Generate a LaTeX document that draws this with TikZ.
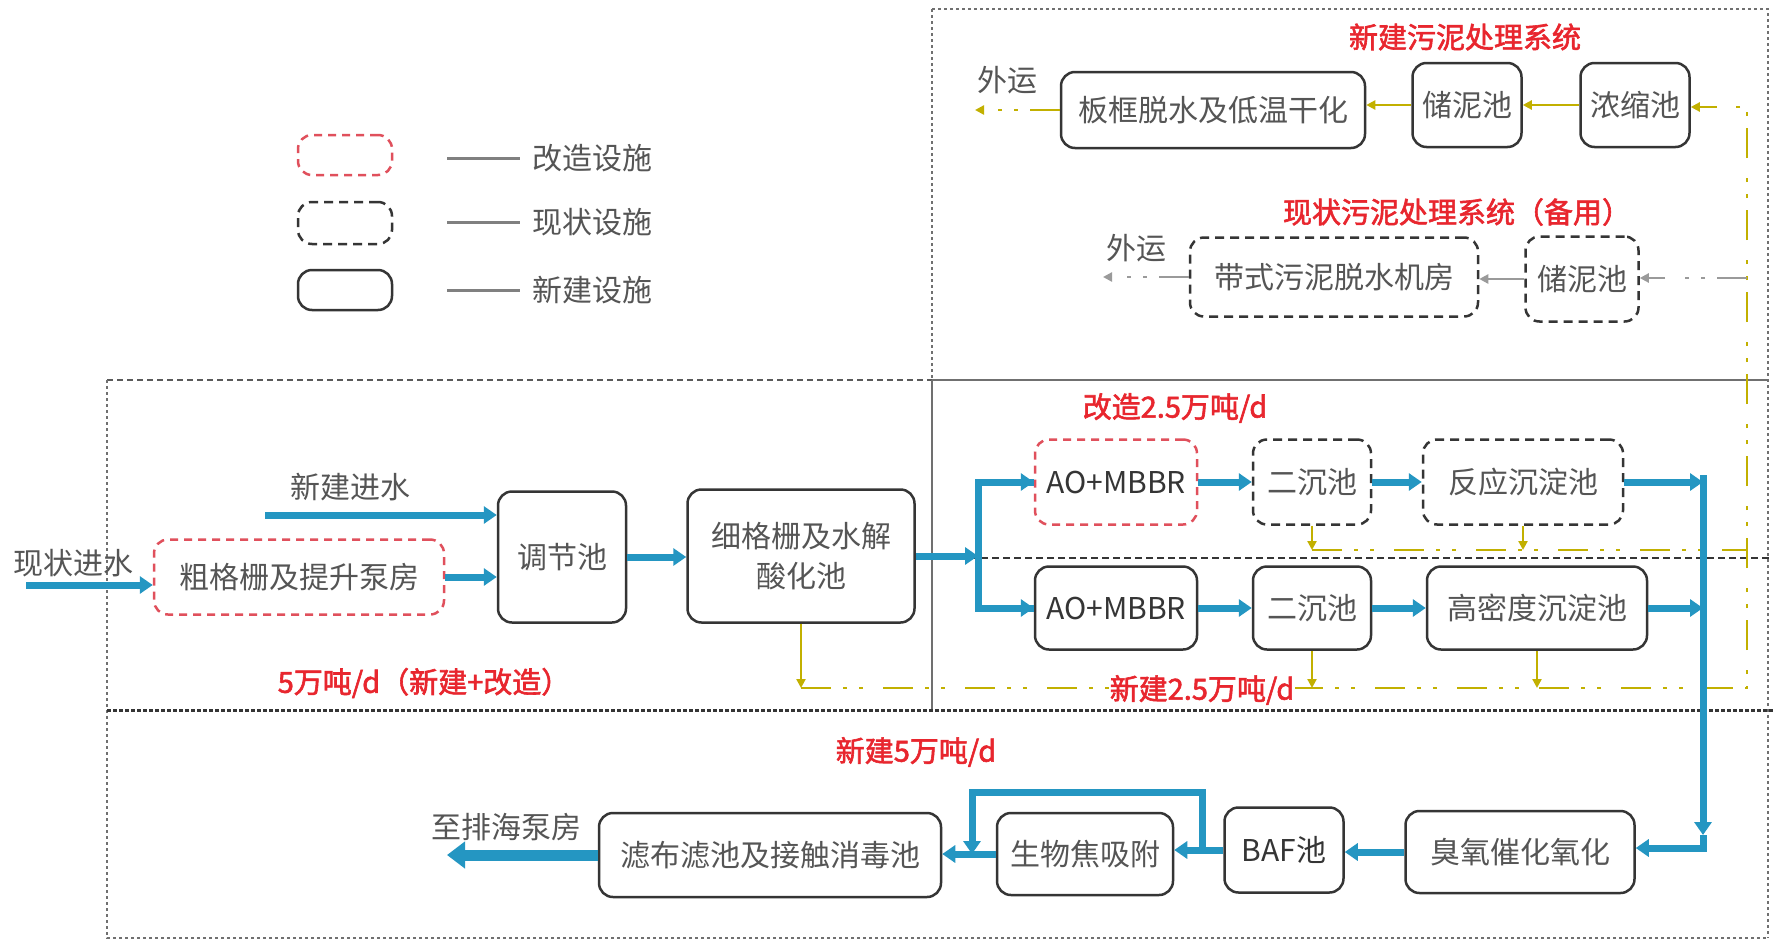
\documentclass[tikz,border=0pt]{standalone}
\usepackage{fontspec}
\setmainfont{Noto Sans CJK SC}
\newfontfamily\cjkb[FakeBold=2]{Noto Sans CJK SC}
\usetikzlibrary{arrows.meta}
\definecolor{bordc}{HTML}{353535}
\definecolor{txtc}{HTML}{555555}
\definecolor{redc}{HTML}{E8262E}
\definecolor{modc}{HTML}{E0505C}
\definecolor{bluec}{HTML}{2496C2}
\definecolor{olivec}{HTML}{C2B000}
\definecolor{grayl}{HTML}{9A9A9A}
\definecolor{framec}{HTML}{707070}
\tikzset{
  fbox/.style={draw=bordc, line width=2.5pt, rounded corners=14pt, text=txtc,
    font=\fontsize{30}{40}\selectfont, align=center, inner sep=0pt},
  modbox/.style={fbox, draw=modc, dash pattern=on 8pt off 6pt},
  oldbox/.style={fbox, dash pattern=on 9pt off 6pt},
  flow/.style={draw=bluec, line width=7pt, -{Triangle[length=13pt,width=17pt]}},
  flowl/.style={draw=bluec, line width=7pt},
  bigflow/.style={draw=bluec, line width=11pt, -{Triangle[length=18pt,width=26pt]}},
  sl/.style={draw=olivec, line width=2.8pt, -{Triangle[length=9pt,width=9pt]}},
  sldd/.style={draw=olivec, line width=2.8pt, dash pattern=on 30pt off 12pt on 4pt off 12pt on 4pt off 20pt},
  gl/.style={draw=grayl, line width=2.8pt, dash pattern=on 30pt off 12pt on 4pt off 12pt on 4pt off 20pt},
  lbl/.style={text=txtc, font=\fontsize{30}{36}\selectfont, inner sep=0pt},
  rlbl/.style={text=redc, font=\fontsize{29}{34}\cjkb, inner sep=1pt},
  frm/.style={draw=framec, line width=1.3pt, dash pattern=on 3pt off 3pt},
  frmd/.style={draw=framec!80!black, line width=1.6pt, dash pattern=on 6pt off 4pt},
}
\begin{document}
\begin{tikzpicture}[x=1pt,y=-1pt]
\useasboundingbox[fill=white] (0,0) rectangle (1773,940);
% frames
\draw[frm] (932,9) -- (1768,9) -- (1768,938);
\draw[frm] (932,9) -- (932,380);
\draw[frmd] (107,380) -- (932,380);
\draw[draw=framec, line width=1.3pt] (932,380) -- (1768,380);
\draw[draw=framec, line width=1.3pt] (932,380) -- (932,710);
\draw[frm] (107,380) -- (107,938) -- (1768,938);
\draw[draw=bordc, line width=3pt, dash pattern=on 4pt off 2pt] (107,710) -- (1773,710);
\draw[draw=bordc, line width=2pt, dash pattern=on 7pt off 4pt] (915,558) -- (1773,558);
% legend
\node[modbox, minimum width=94pt, minimum height=40pt] (lg1) at (345,155) {};
\node[oldbox, minimum width=94pt, minimum height=42pt] (lg2) at (345,223) {};
\node[fbox, minimum width=94pt, minimum height=40pt] (lg3) at (345,290) {};
\coordinate (la1) at (447,158); \coordinate (lb1) at (520,158);
\coordinate (la2) at (447,222); \coordinate (lb2) at (520,222);
\coordinate (la3) at (447,290); \coordinate (lb3) at (520,290);
\draw[draw=gray, line width=3pt] (la1) -- (lb1);
\draw[draw=gray, line width=3pt] (la2) -- (lb2);
\draw[draw=gray, line width=3pt] (la3) -- (lb3);
\node[lbl, anchor=west] (lt1) at (532,158) {改造设施};
\node[lbl, anchor=west] (lt2) at (532,222) {现状设施};
\node[lbl, anchor=west] (lt3) at (532,290) {新建设施};
% sludge system
\node[rlbl] (st1) at (1465,37) {新建污泥处理系统};
\node[rlbl] (st2) at (1457,212) {现状污泥处理系统（备用）};
\node[fbox, minimum width=304pt, minimum height=76pt] (pk) at (1213,110) {板框脱水及低温干化};
\node[fbox, minimum width=109pt, minimum height=84pt] (cn1) at (1467,105) {储泥池};
\node[fbox, minimum width=109pt, minimum height=84pt] (nz) at (1635,105) {浓缩池};
\node[oldbox, minimum width=288pt, minimum height=79pt] (dd) at (1334,277) {带式污泥脱水机房};
\node[oldbox, minimum width=113pt, minimum height=85pt] (cn2) at (1582,279) {储泥池};
\node[lbl] (wy1) at (1007,80) {外运};
\node[lbl] (wy2) at (1136,248) {外运};
\coordinate (ow1) at (975,107);
\coordinate (ow2) at (1103,278);
% main line
\node[lbl] (t_xj) at (350,487) {新建进水};
\node[lbl] (t_xz) at (73,563) {现状进水};
\node[modbox, minimum width=290pt, minimum height=75pt] (cg) at (299,577) {粗格栅及提升泵房};
\node[fbox, minimum width=128pt, minimum height=131pt] (tj) at (562,557) {调节池};
\node[fbox, minimum width=227pt, minimum height=133pt] (xg) at (801,556) {细格栅及水解\\酸化池};
\node[rlbl] (r1) at (1175,408) {改造2.5万吨/d};
\node[modbox, minimum width=162pt, minimum height=85pt, text=bordc] (ao1) at (1116,482) {AO+MBBR};
\node[oldbox, minimum width=118pt, minimum height=85pt] (ec1) at (1312,482) {二沉池};
\node[oldbox, minimum width=200pt, minimum height=85pt] (fy) at (1523,482) {反应沉淀池};
\node[fbox, minimum width=162pt, minimum height=83pt, text=bordc] (ao2) at (1116,608) {AO+MBBR};
\node[fbox, minimum width=118pt, minimum height=83pt] (ec2) at (1312,608) {二沉池};
\node[fbox, minimum width=220pt, minimum height=83pt] (gm) at (1537,608) {高密度沉淀池};
\node[rlbl] (r2) at (424,683) {5万吨/d（新建+改造）};
\node[rlbl] (r4) at (916,752) {新建5万吨/d};
% bottom line
\node[fbox, minimum width=229pt, minimum height=82pt] (cy) at (1520,852) {臭氧催化氧化};
\node[fbox, minimum width=119pt, minimum height=85pt, text=bordc] (baf) at (1284,850) {BAF池};
\node[fbox, minimum width=176pt, minimum height=82pt] (swt) at (1085,854) {生物焦吸附};
\node[fbox, minimum width=342pt, minimum height=84pt] (lb) at (770,855) {滤布滤池及接触消毒池};
\node[lbl] (t_ph) at (506,827) {至排海泵房};
% coordinates
\coordinate (in1) at (265,515);
\coordinate (in2) at (26,585);
\coordinate (jn) at (978,552);
\coordinate (vx) at (1703,480);
\coordinate (vtop) at (1703,475);
\coordinate (varr) at (1703,835);
\coordinate (vbot) at (1703,848);
\coordinate (bp1) at (1202,850);
\coordinate (bp2) at (972,792);
\coordinate (out) at (447,860);
\coordinate (sy1) at (1747,550);
\coordinate (sy2) at (1747,688);
\coordinate (stop) at (1747,107);
\coordinate (gs) at (1747,278);
% sludge lines
\draw[sldd] (ec1.south |- sy1) -- (sy1);
\draw[sldd] (xg.south |- sy2) -- (sy2) -- (stop) -- ([xshift=-30pt]stop);
\draw[sl] ([xshift=-30pt]stop) -- (stop -| nz.east);
\draw[sl] (ec1.south) -- (ec1.south |- sy1);
\draw[sl] (fy.south) -- (fy.south |- sy1);
\draw[sl] (xg.south) -- (xg.south |- sy2);
\draw[sl] (ec2.south) -- (ec2.south |- sy2);
\draw[sl] (gm.south) -- (gm.south |- sy2);
\draw[sl] (nz.west) -- (cn1.east);
\draw[sl] (cn1.west) -- (cn1.west -| pk.east);
\draw[sldd, -{Triangle[length=9pt,width=9pt]}] (pk.west) -- (pk.west -| ow1);
\draw[gl, -{Triangle[length=9pt,width=9pt]}] (gs) -- (gs -| cn2.east);
\draw[draw=grayl, line width=2.8pt, -{Triangle[length=9pt,width=9pt]}] (cn2.west) -- (cn2.west -| dd.east);
\draw[gl, -{Triangle[length=9pt,width=9pt]}] (dd.west) -- (dd.west -| ow2);
\node[rlbl, fill=white] (r3) at (1202,690) {新建2.5万吨/d};
% water flow
\draw[flow] (in1) -- (in1 -| tj.west);
\draw[flow] (in2) -- (in2 -| cg.west);
\draw[flow] (cg.east) -- (cg.east -| tj.west);
\draw[flow] (tj.east) -- (tj.east -| xg.west);
\draw[flowl] (xg.east -| jn) |- (ao1.west);
\draw[flowl] (xg.east -| jn) |- (ao2.west);
\draw[flow] (jn |- ao1.west) -- (ao1.west);
\draw[flow] (jn |- ao2.west) -- (ao2.west);
\draw[flow] (xg.east) -- (xg.east -| jn);
\draw[flow] (ao1.east) -- (ec1.west);
\draw[flow] (ec1.east) -- (fy.west);
\draw[flow] (ao2.east) -- (ec2.west);
\draw[flow] (ec2.east) -- (gm.west);
\draw[flow] (fy.east) -- (fy.east -| vx);
\draw[flow] (gm.east) -- (gm.east -| vx);
\draw[flow] (vtop) -- (varr);
\draw[flow] (varr) -- (vbot) -- (vbot -| cy.east);
\draw[flow] (cy.west) -- (cy.west -| baf.east);
\draw[flow] (baf.west) -- (baf.west -| swt.east);
\draw[flow] (swt.west) -- (swt.west -| lb.east);
\draw[flow] (bp1) -- (bp1 |- bp2) -- (bp2) -- (bp2 |- swt.west);
\draw[bigflow] (lb.west) -- (lb.west -| out);
\end{tikzpicture}
\end{document}
